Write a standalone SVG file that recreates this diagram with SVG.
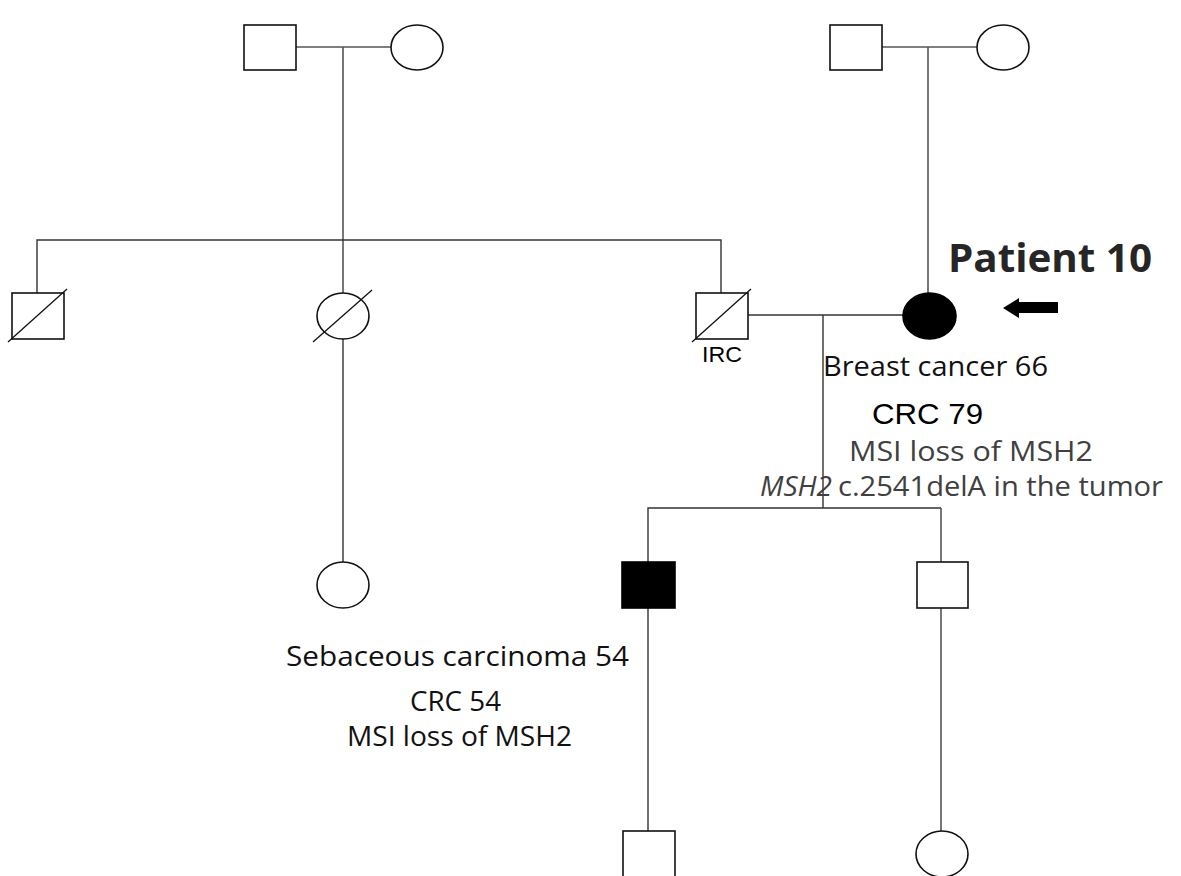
<svg xmlns="http://www.w3.org/2000/svg" width="1181" height="876" viewBox="0 0 1181 876">
  <style>
    .ln { fill: none; stroke: #333; stroke-width: 1.4; }
    .lg { fill: none; stroke: #555; stroke-width: 1.6; }
    .sh { fill: #fff; stroke: #111; stroke-width: 1.6; }
    .af { fill: #000; stroke: #000; stroke-width: 1.6; }
    .dx { stroke: #111; stroke-width: 1.3; }
    .os { font-family: "Open Sans", "Noto Sans", sans-serif; font-size: 27px; }
    .ar { font-family: "Liberation Sans", Arial, sans-serif; }
  </style>
  <rect width="1181" height="876" fill="#fff"/>
  <g id="connectors">
    <path class="lg" d="M296 47 H391"/>
    <path class="lg" d="M343 47 V293"/>
    <path class="ln" d="M37 293 V240 H721 V293"/>
    <path class="ln" d="M343 339 V562"/>
    <path class="lg" d="M882 47 H977"/>
    <path class="lg" d="M928 47 V293"/>
    <path class="ln" d="M748 315 H903"/>
    <path class="ln" d="M823 315 V508"/>
    <path class="ln" d="M648 562 V508 H941"/>
    <path class="lg" d="M941 508 V562"/>
    <path class="ln" d="M648 608 V831"/>
    <path class="lg" d="M941 608 V831"/>
  </g>
  <g id="paternal-grandfather"><rect class="sh" x="244" y="25" width="52" height="45"/></g>
  <g id="paternal-grandmother"><ellipse class="sh" cx="417" cy="47.5" rx="26" ry="22.5"/></g>
  <g id="maternal-grandfather"><rect class="sh" x="830" y="25" width="52" height="45"/></g>
  <g id="maternal-grandmother"><ellipse class="sh" cx="1003" cy="47.5" rx="26" ry="22.5"/></g>
  <g id="uncle"><rect class="sh" x="12" y="293" width="52" height="46"/><line class="dx" x1="8" y1="342" x2="67" y2="289"/></g>
  <g id="aunt"><ellipse class="sh" cx="343" cy="316" rx="26" ry="23"/><line class="dx" x1="313" y1="342" x2="372" y2="290"/></g>
  <g id="father"><rect class="sh" x="696" y="293" width="52" height="46"/><line class="dx" x1="692" y1="342" x2="751" y2="289"/>
    <text class="ar" x="702" y="362" font-size="22" textLength="40" lengthAdjust="spacingAndGlyphs">IRC</text></g>
  <g id="patient"><ellipse class="af" cx="929.5" cy="316" rx="26.5" ry="23"/>
    <text x="948" y="272" font-family="'Open Sans', 'Noto Sans', sans-serif" font-weight="bold" font-size="40" fill="#262626" textLength="204" lengthAdjust="spacingAndGlyphs">Patient 10</text>
    <polygon points="1003,308 1019,298 1019,302 1058,302 1058,313 1019,313 1019,318" fill="#000"/>
    <text class="os" x="823" y="376" fill="#111" textLength="225" lengthAdjust="spacingAndGlyphs">Breast cancer 66</text>
    <text class="ar" x="872" y="424" font-size="29" fill="#000" textLength="111" lengthAdjust="spacingAndGlyphs">CRC 79</text>
    <text class="os" x="849" y="461" fill="#404040" textLength="244" lengthAdjust="spacingAndGlyphs">MSI loss of MSH2</text>
    <text class="os" y="496" fill="#404040"><tspan x="760" font-style="italic" textLength="72" lengthAdjust="spacingAndGlyphs">MSH2</tspan><tspan x="838" textLength="325" lengthAdjust="spacingAndGlyphs">c.2541delA in the tumor</tspan></text>
  </g>
  <g id="cousin"><ellipse class="sh" cx="343" cy="585" rx="26" ry="23"/>
    <text class="os" x="286" y="666" fill="#111" textLength="343" lengthAdjust="spacingAndGlyphs">Sebaceous carcinoma 54</text>
    <text class="os" x="410" y="711" fill="#111" textLength="91" lengthAdjust="spacingAndGlyphs">CRC 54</text>
    <text class="os" x="347" y="746" fill="#111" textLength="225" lengthAdjust="spacingAndGlyphs">MSI loss of MSH2</text>
  </g>
  <g id="son-affected"><rect class="af" x="622" y="562" width="53" height="46"/></g>
  <g id="son"><rect class="sh" x="917" y="562" width="51" height="46"/></g>
  <g id="grandson"><rect class="sh" x="623" y="831" width="52" height="46"/></g>
  <g id="granddaughter"><ellipse class="sh" cx="942" cy="854" rx="26" ry="23"/></g>
</svg>
